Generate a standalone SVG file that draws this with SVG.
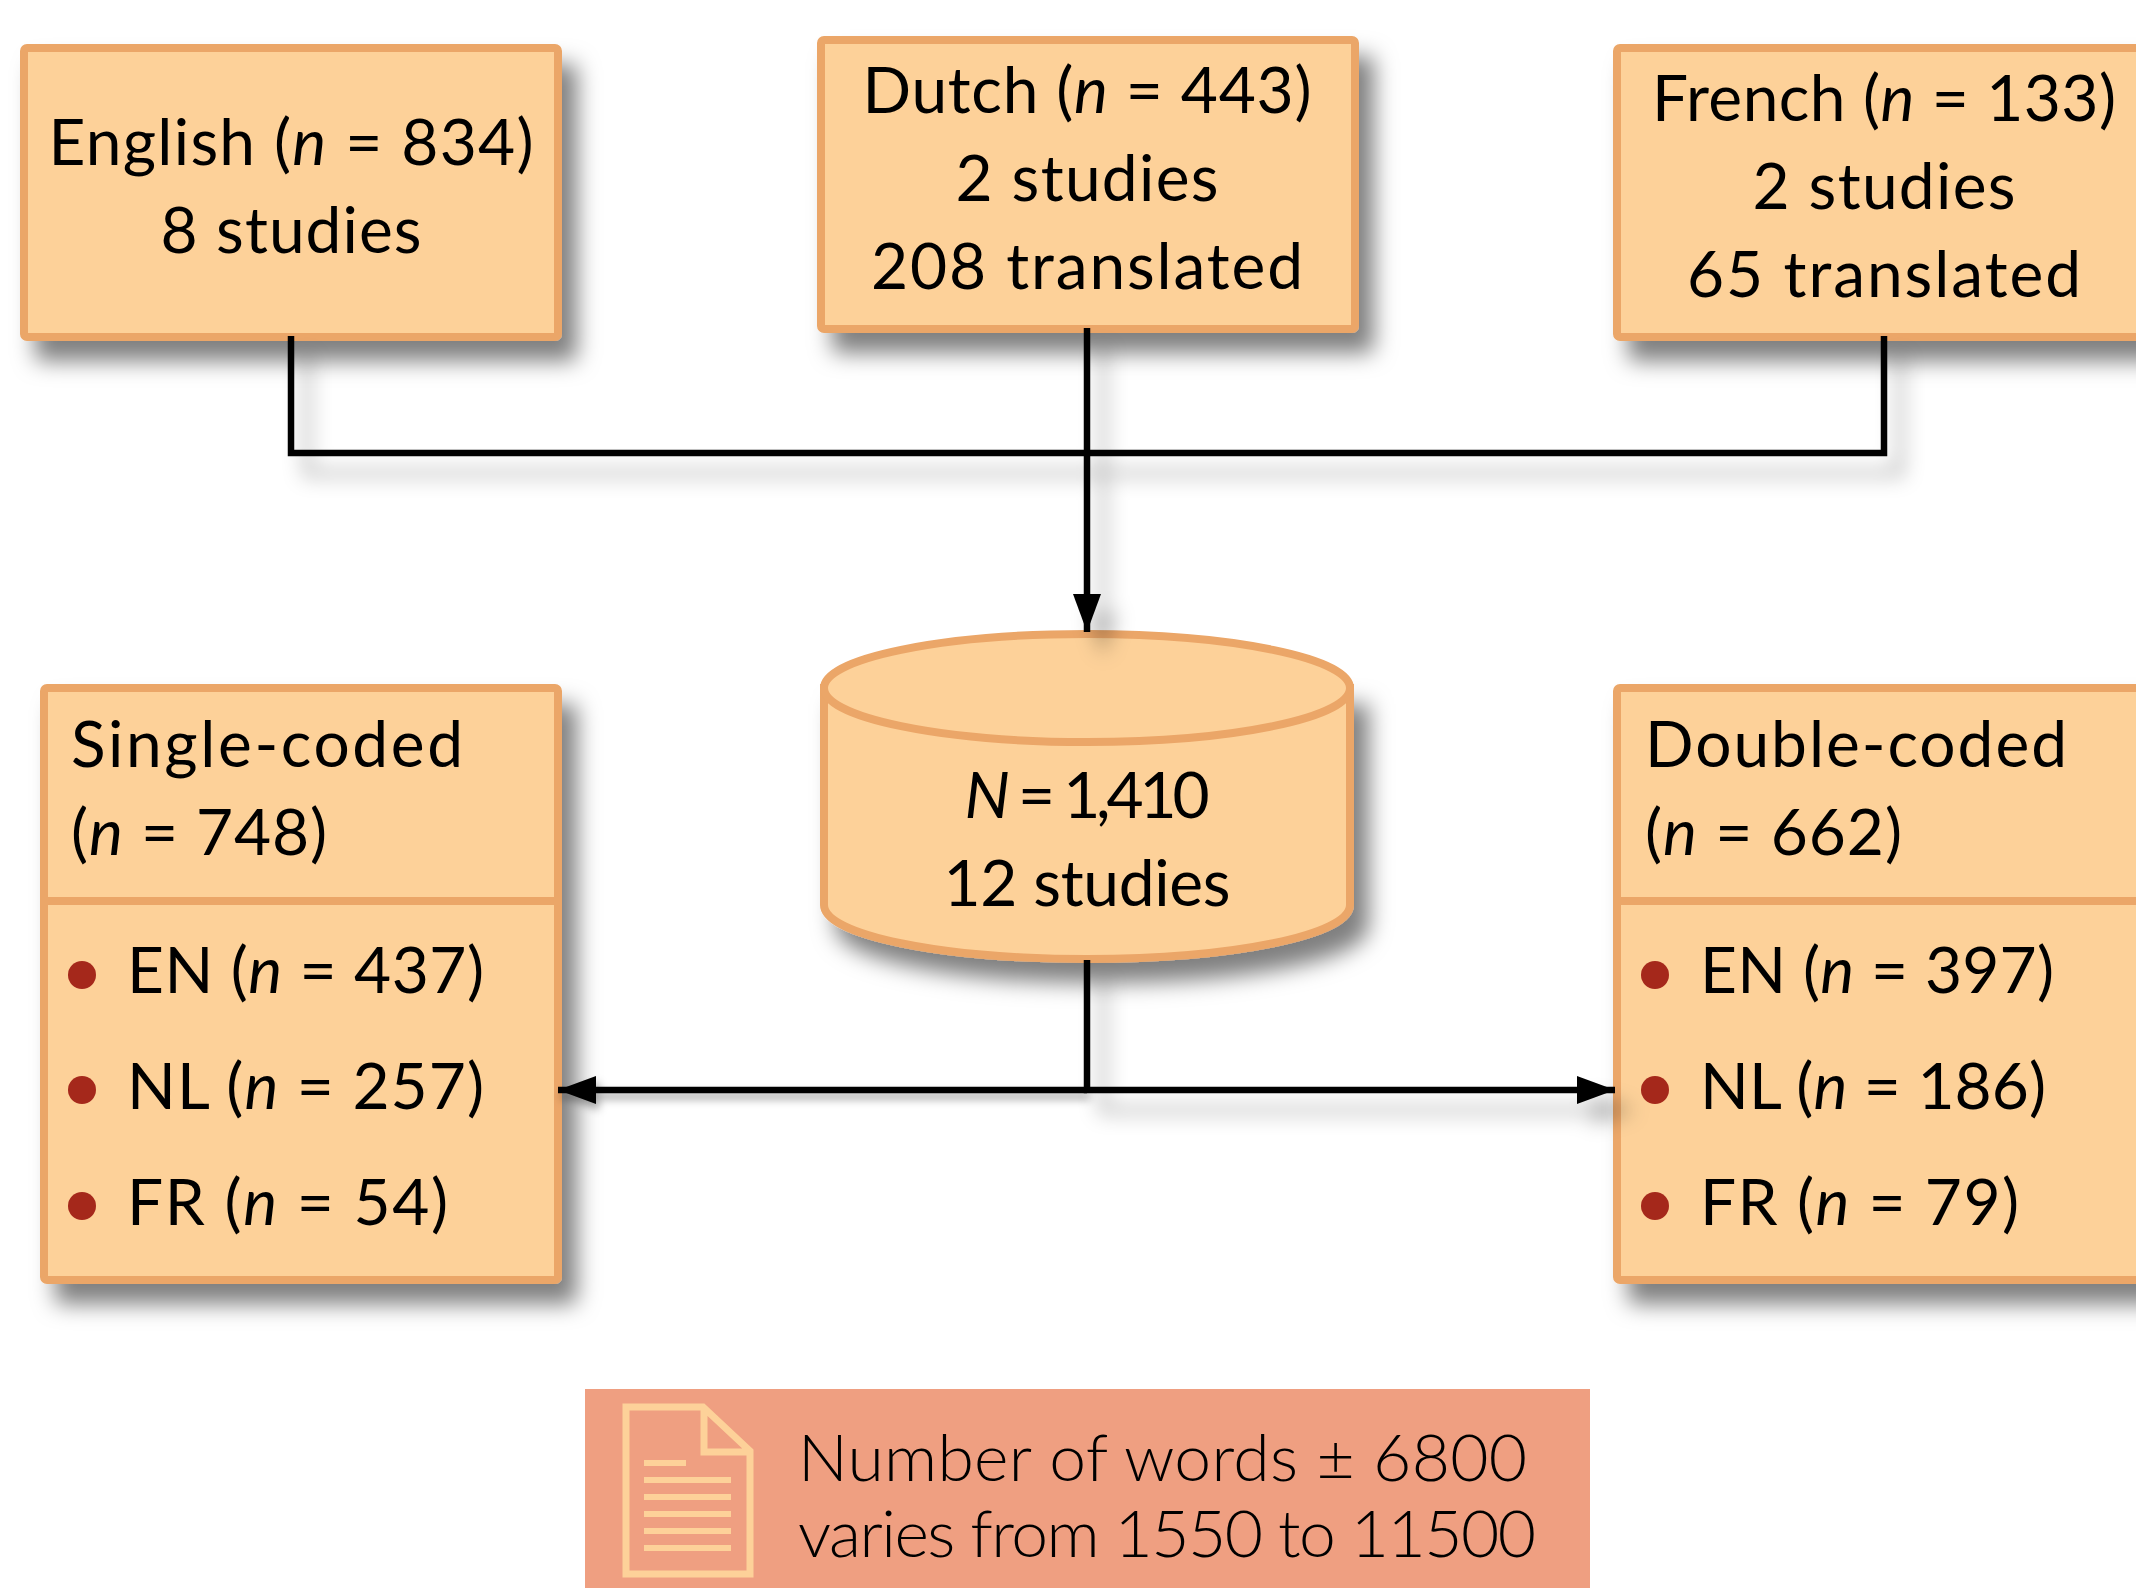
<svg xmlns="http://www.w3.org/2000/svg" width="2136" height="1588" viewBox="0 0 2136 1588">
<style>
text{font-family:"Lato","Noto Sans",sans-serif;font-size:64px;fill:#000}
.c{text-anchor:middle}
.n{font-style:italic}
.box{fill:#FDD199;stroke:#EBA668;stroke-width:8}
.b{fill:#A5281B}
.l{fill:none;stroke:#000;stroke-width:6.5}
.t{font-weight:300;font-size:66px}
.i{fill:#FDD199}
</style>
<defs>
<filter id="s" x="-20%" y="-20%" width="150%" height="150%"><feDropShadow dx="15" dy="20" stdDeviation="11" flood-color="#000" flood-opacity="0.5"/></filter>
<filter id="s2" x="0" y="0" width="2136" height="1588" filterUnits="userSpaceOnUse"><feDropShadow dx="16" dy="20" stdDeviation="10" flood-color="#000" flood-opacity="0.32"/></filter>
<filter id="s3" x="0" y="0" width="2136" height="1588" filterUnits="userSpaceOnUse"><feDropShadow dx="3" dy="6" stdDeviation="4" flood-color="#000" flood-opacity="0.35"/></filter>
<marker id="a" markerUnits="userSpaceOnUse" markerWidth="38" markerHeight="28" refX="38" refY="14" orient="auto"><path d="M0 0L38 14L0 28z"/></marker>
</defs>
<g id="english"><rect class="box" x="24" y="48" width="534" height="289" rx="3" filter="url(#s)"/>
<text class="c" x="291" y="165" textLength="485">English (<tspan class="n">n</tspan> = 834)</text><text class="c" x="291" y="253" textLength="261">8 studies</text></g>
<g id="dutch"><rect class="box" x="821" y="40" width="534" height="289" rx="3" filter="url(#s)"/>
<text class="c" x="1087" y="113" textLength="449">Dutch (<tspan class="n">n</tspan> = 443)</text><text class="c" x="1087" y="201" textLength="263">2 studies</text><text class="c" x="1087" y="289" textLength="432">208 translated</text></g>
<g id="french"><rect class="box" x="1617" y="48" width="536" height="289" rx="3" filter="url(#s)"/>
<text class="c" x="1884" y="121" textLength="464">French (<tspan class="n">n</tspan> = 133)</text><text class="c" x="1884" y="209" textLength="263">2 studies</text><text class="c" x="1884" y="297" textLength="394">65 translated</text></g>
<g id="database"><path class="box" d="M824 688V905C824 935 941 959 1087 959S1350 935 1350 905V688z" filter="url(#s)"/>
<ellipse class="box" cx="1087" cy="688" rx="263" ry="54"/>
<text class="c" x="1087" y="818" textLength="245"><tspan class="n">N</tspan> = 1,410</text><text class="c" x="1087" y="906" textLength="287">12 studies</text></g>
<g id="single"><rect class="box" x="44" y="688" width="514" height="592" rx="3" filter="url(#s)"/>
<path class="box" d="M44 901H558"/>
<text x="71" y="767" textLength="392">Single-coded</text><text x="71" y="855" textLength="256">(<tspan class="n">n</tspan> = 748)</text>
<circle class="b" cx="82" cy="975" r="14"/><circle class="b" cx="82" cy="1090" r="14"/><circle class="b" cx="82" cy="1206" r="14"/>
<text x="127" y="993" textLength="357">EN (<tspan class="n">n</tspan> = 437)</text><text x="127" y="1109" textLength="357">NL (<tspan class="n">n</tspan> = 257)</text><text x="127" y="1225" textLength="321">FR (<tspan class="n">n</tspan> = 54)</text></g>
<g id="double"><rect class="box" x="1617" y="688" width="536" height="592" rx="3" filter="url(#s)"/>
<path class="box" d="M1617 901H2136"/>
<text x="1645" y="767" textLength="422">Double-coded</text><text x="1645" y="855" textLength="257">(<tspan class="n">n</tspan> = 662)</text>
<circle class="b" cx="1655" cy="975" r="14"/><circle class="b" cx="1655" cy="1090" r="14"/><circle class="b" cx="1655" cy="1206" r="14"/>
<text x="1700" y="993" textLength="354">EN (<tspan class="n">n</tspan> = 397)</text><text x="1700" y="1109" textLength="346">NL (<tspan class="n">n</tspan> = 186)</text><text x="1700" y="1225" textLength="319">FR (<tspan class="n">n</tspan> = 79)</text></g>
<g id="words"><rect x="585" y="1389" width="1005" height="199" fill="#EF9F81"/>
<path fill="none" stroke="#FDD199" stroke-width="7" d="M626 1407H703L750 1451V1574H626zM704 1407V1452H750"/>
<rect class="i" x="644" y="1460" width="42" height="6"/><rect class="i" x="644" y="1477" width="87" height="6"/><rect class="i" x="644" y="1494" width="87" height="6"/><rect class="i" x="644" y="1511" width="87" height="6"/><rect class="i" x="644" y="1528" width="87" height="6"/><rect class="i" x="644" y="1545" width="87" height="6"/>
<text class="t" x="798" y="1481" textLength="729">Number of words ± 6800</text><text class="t" x="798" y="1557" textLength="738">varies from 1550 to 11500</text></g>
<g id="connectors">
<g filter="url(#s2)">
<path class="l" d="M291 336V453H1884V336"/>
<path class="l" d="M1087 328V632" marker-end="url(#a)"/>
<path class="l" d="M1087 960V1090H1615" marker-end="url(#a)"/>
</g>
<path class="l" filter="url(#s3)" d="M1087 1090H558" marker-end="url(#a)"/>
</g>
</svg>
